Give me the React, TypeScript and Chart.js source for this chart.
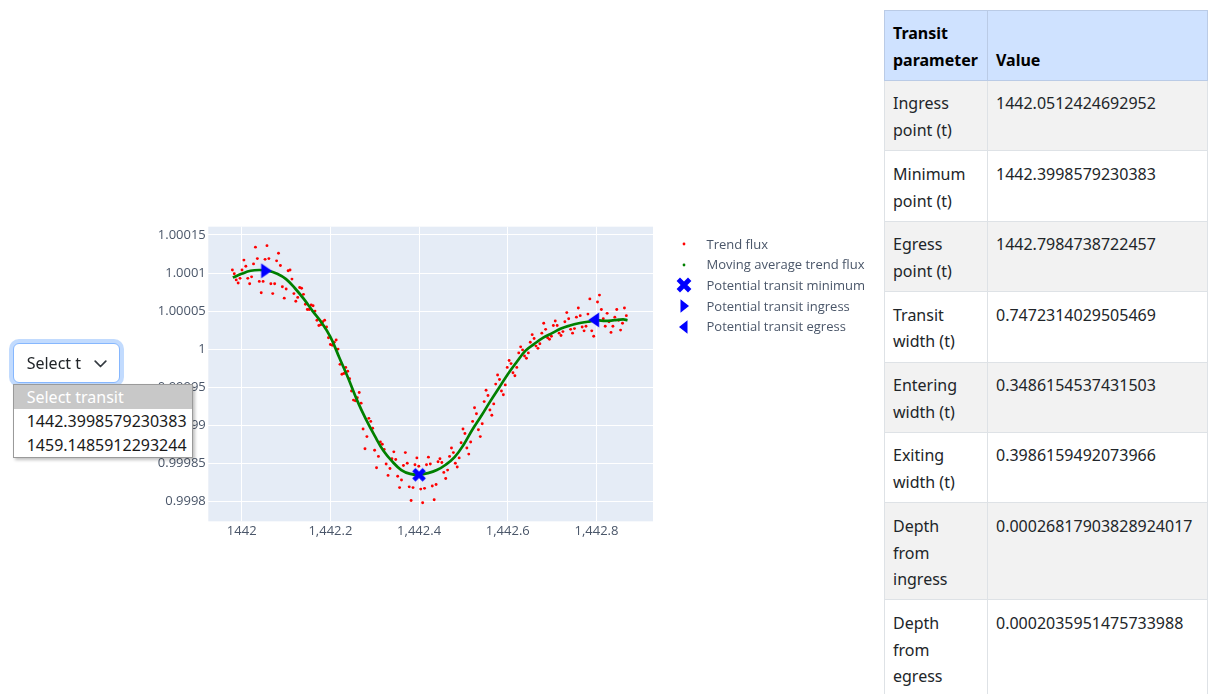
import React, { useEffect, useRef } from "react";
import { Chart, registerables } from "chart.js";

Chart.register(...registerables);

// Detrended light curve around the first transit candidate (time in days, flux offset in ppm from 1)
const trendTimes: number[] = [
  1441.979, 1441.9833, 1441.9877, 1441.992, 1441.9963, 1442.0007,
  1442.005, 1442.0093, 1442.0137, 1442.018, 1442.0223, 1442.0267,
  1442.031, 1442.0353, 1442.0397, 1442.044, 1442.0483, 1442.0527,
  1442.057, 1442.0613, 1442.0657, 1442.07, 1442.0743, 1442.0787,
  1442.083, 1442.0873, 1442.0917, 1442.096, 1442.1003, 1442.1047,
  1442.109, 1442.1133, 1442.1177, 1442.122, 1442.1263, 1442.1307,
  1442.135, 1442.1393, 1442.1437, 1442.148, 1442.1523, 1442.1567,
  1442.161, 1442.1653, 1442.1697, 1442.174, 1442.1783, 1442.1827,
  1442.187, 1442.1913, 1442.1957, 1442.2, 1442.2043, 1442.2087,
  1442.213, 1442.2173, 1442.2217, 1442.226, 1442.2303, 1442.2347,
  1442.239, 1442.2433, 1442.2477, 1442.252, 1442.2563, 1442.2607,
  1442.265, 1442.2693, 1442.2737, 1442.278, 1442.2823, 1442.2867,
  1442.291, 1442.2953, 1442.2997, 1442.304, 1442.3083, 1442.3127,
  1442.317, 1442.3213, 1442.3257, 1442.33, 1442.3343, 1442.3387,
  1442.343, 1442.3473, 1442.3517, 1442.356, 1442.3603, 1442.3647,
  1442.369, 1442.3733, 1442.3777, 1442.382, 1442.3863, 1442.3907,
  1442.395, 1442.3993, 1442.4037, 1442.408, 1442.4123, 1442.4167,
  1442.421, 1442.4253, 1442.4297, 1442.434, 1442.4383, 1442.4427,
  1442.447, 1442.4513, 1442.4557, 1442.46, 1442.4643, 1442.4687,
  1442.473, 1442.4773, 1442.4817, 1442.486, 1442.4903, 1442.4947,
  1442.499, 1442.5033, 1442.5077, 1442.512, 1442.5163, 1442.5207,
  1442.525, 1442.5293, 1442.5337, 1442.538, 1442.5423, 1442.5467,
  1442.551, 1442.5553, 1442.5597, 1442.564, 1442.5683, 1442.5727,
  1442.577, 1442.5813, 1442.5857, 1442.59, 1442.5943, 1442.5987,
  1442.603, 1442.6073, 1442.6117, 1442.616, 1442.6203, 1442.6247,
  1442.629, 1442.6333, 1442.6377, 1442.642, 1442.6463, 1442.6507,
  1442.655, 1442.6593, 1442.6637, 1442.668, 1442.6723, 1442.6767,
  1442.681, 1442.6853, 1442.6897, 1442.694, 1442.6983, 1442.7027,
  1442.707, 1442.7113, 1442.7157, 1442.72, 1442.7243, 1442.7287,
  1442.733, 1442.7373, 1442.7417, 1442.746, 1442.7503, 1442.7547,
  1442.759, 1442.7633, 1442.7677, 1442.772, 1442.7763, 1442.7807,
  1442.785, 1442.7893, 1442.7937, 1442.798, 1442.8023, 1442.8067,
  1442.811, 1442.8153, 1442.8197, 1442.824, 1442.8283, 1442.8327,
  1442.837, 1442.8413, 1442.8457, 1442.85, 1442.8543, 1442.8587,
  1442.863, 1442.8673,
];

const trendFluxPpm: number[] = [
  104, 99, 91, 87, 93, 104,
  117, 109, 93, 86, 95, 112,
  134, 119, 89, 74, 89, 118,
  136, 119, 86, 73, 86, 116,
  126, 110, 82, 67, 79, 103,
  104, 92, 73, 63, 68, 81,
  80, 72, 59, 52, 52, 58,
  57, 50, 38, 31, 32, 36,
  38, 29, 15, 6, 5, 9,
  12, 0, -20, -33, -32, -24,
  -29, -39, -55, -67, -68, -64,
  -57, -71, -105, -131, -115, -91,
  -95, -104, -133, -156, -141, -122,
  -125, -132, -151, -166, -157, -144,
  -135, -145, -167, -182, -172, -153,
  -136, -150, -181, -199, -182, -152,
  -143, -154, -184, -202, -183, -152,
  -142, -151, -180, -198, -178, -148,
  -144, -149, -162, -170, -159, -141,
  -130, -136, -150, -155, -143, -123,
  -105, -111, -130, -138, -122, -95,
  -77, -85, -106, -115, -98, -69,
  -54, -61, -80, -87, -72, -46,
  -34, -40, -55, -60, -47, -24,
  -15, -19, -31, -35, -24, -5,
  3, -1, -9, -12, -5, 9,
  19, 14, 4, 1, 7, 21,
  34, 26, 15, 13, 17, 31,
  37, 31, 21, 18, 23, 36,
  48, 40, 26, 21, 27, 42,
  54, 44, 29, 24, 30, 46,
  66, 24, 17, 35, 62, 71,
  52, 40, 30, 47, 36, 22,
  30, 42, 52, 38, 25, 34,
  54, 44,
];

// Moving average of the trend flux
const averageTimes: number[] = [
  1441.98, 1442.0, 1442.02, 1442.04, 1442.06, 1442.08, 1442.1, 1442.12, 1442.14, 1442.16,
  1442.18, 1442.2, 1442.22, 1442.24, 1442.26, 1442.28, 1442.3, 1442.32, 1442.34, 1442.36,
  1442.38, 1442.4, 1442.42, 1442.44, 1442.46, 1442.48, 1442.5, 1442.52, 1442.54, 1442.56,
  1442.58, 1442.6, 1442.62, 1442.64, 1442.66, 1442.68, 1442.7, 1442.72, 1442.74, 1442.76,
  1442.78, 1442.8, 1442.82, 1442.84, 1442.86, 1442.87,
];
const averageFluxPpm: number[] = [
  94, 99, 103, 104, 103, 99, 92, 80, 66, 50,
  35, 16, -11, -38, -67, -92, -114, -134, -148, -159,
  -164, -165, -163, -159, -152, -142, -126, -106, -88, -69,
  -51, -33, -17, -2, 7, 15, 21, 27, 31, 34,
  36, 38, 37, 38, 39, 38,
];

// Transit parameters
const ingressTime = 1442.0512424692952;
const minimumTime = 1442.3998579230383;
const egressTime = 1442.7984738722457;
const minimumFlux = 0.9998348;
const depthFromIngress = 0.00026817903828924017;
const depthFromEgress = 0.0002035951475733988;

const xTickValues = [1442, 1442.2, 1442.4, 1442.6, 1442.8];
const xTickLabels = ["1442", "1,442.2", "1,442.4", "1,442.6", "1,442.8"];
const yTickValues = [0.9998, 0.99985, 0.9999, 0.99995, 1, 1.00005, 1.0001, 1.00015];
const yTickLabels = ["0.9998", "0.99985", "0.9999", "0.99995", "1", "1.00005", "1.0001", "1.00015"];
const xRange = [1441.9247, 1442.9274];
const yRange = [0.9997737, 1.0001609];

const legendLabels = [
  "Trend flux",
  "Moving average trend flux",
  "Potential transit minimum",
  "Potential transit ingress",
  "Potential transit egress",
];

const transitOptions = ["Select transit", "1442.3998579230383", "1459.1485912293244"];

const tableHeaders = ["Transit\nparameter", "Value"];
const parameterNames = [
  "Ingress\npoint (t)",
  "Minimum\npoint (t)",
  "Egress\npoint (t)",
  "Transit\nwidth (t)",
  "Entering\nwidth (t)",
  "Exiting\nwidth (t)",
  "Depth\nfrom\ningress",
  "Depth\nfrom\negress",
];
const parameterValues = [
  "1442.0512424692952",
  "1442.3998579230383",
  "1442.7984738722457",
  "0.7472314029505469",
  "0.3486154537431503",
  "0.3986159492073966",
  "0.00026817903828924017",
  "0.0002035951475733988",
];

const PLOT_FONT = "'Open Sans', verdana, arial, sans-serif";
const UI_FONT = "'Noto Sans', 'Segoe UI', sans-serif";
const AXIS_TEXT = "#4a5669";
const MARKER_BLUE = "#0000ff";

const ppmToFlux = (ppm: number) => 1 + ppm * 1e-6;

function markerCanvas(draw: (ctx: CanvasRenderingContext2D) => void): HTMLCanvasElement {
  const c = document.createElement("canvas");
  c.width = 24;
  c.height = 24;
  const ctx = c.getContext("2d")!;
  ctx.translate(12, 12);
  ctx.fillStyle = MARKER_BLUE;
  ctx.strokeStyle = MARKER_BLUE;
  draw(ctx);
  return c;
}

const plotBackground = {
  id: "plotBackground",
  beforeDraw(chart: any) {
    const { ctx, chartArea } = chart;
    ctx.save();
    ctx.fillStyle = "#E5ECF6";
    ctx.fillRect(chartArea.left, chartArea.top, chartArea.right - chartArea.left, chartArea.bottom - chartArea.top);
    ctx.restore();
  },
};

function TransitChart() {
  const canvasRef = useRef<HTMLCanvasElement | null>(null);

  useEffect(() => {
    const canvas = canvasRef.current;
    if (!canvas) return;

    const cross = markerCanvas((ctx) => {
      ctx.lineWidth = 4.6;
      ctx.beginPath();
      ctx.moveTo(-5.2, -5.2);
      ctx.lineTo(5.2, 5.2);
      ctx.moveTo(5.2, -5.2);
      ctx.lineTo(-5.2, 5.2);
      ctx.stroke();
    });
    const triangleRight = markerCanvas((ctx) => {
      ctx.beginPath();
      ctx.moveTo(-3.25, -7.5);
      ctx.lineTo(7.5, 0);
      ctx.lineTo(-3.25, 7.5);
      ctx.closePath();
      ctx.fill();
    });
    const triangleLeft = markerCanvas((ctx) => {
      ctx.beginPath();
      ctx.moveTo(3.25, -7.5);
      ctx.lineTo(-7.5, 0);
      ctx.lineTo(3.25, 7.5);
      ctx.closePath();
      ctx.fill();
    });

    const tickFont = { family: PLOT_FONT, size: 13 };

    const chart = new Chart(canvas, {
      type: "scatter",
      data: {
        datasets: [
          {
            label: legendLabels[0],
            data: trendTimes.map((t, i) => ({ x: t, y: ppmToFlux(trendFluxPpm[i]) })),
            pointRadius: 1.45,
            pointBackgroundColor: "#ff0000",
            pointBorderWidth: 0,
            order: 5,
          },
          {
            label: legendLabels[1],
            data: averageTimes.map((t, i) => ({ x: t, y: ppmToFlux(averageFluxPpm[i]) })),
            showLine: true,
            borderColor: "#008000",
            borderWidth: 2.7,
            tension: 0.4,
            pointRadius: 0,
            order: 4,
          },
          {
            label: legendLabels[2],
            data: [{ x: minimumTime, y: minimumFlux }],
            pointStyle: cross,
            pointRadius: 8,
            order: 3,
          },
          {
            label: legendLabels[3],
            data: [{ x: ingressTime, y: minimumFlux + depthFromIngress }],
            pointStyle: triangleRight,
            pointRadius: 8,
            order: 2,
          },
          {
            label: legendLabels[4],
            data: [{ x: egressTime, y: minimumFlux + depthFromEgress }],
            pointStyle: triangleLeft,
            pointRadius: 8,
            order: 1,
          },
        ],
      },
      options: {
        animation: false,
        responsive: false,
        events: [],
        layout: { padding: { left: 0, right: 27, top: 226.7, bottom: 0 } },
        plugins: { legend: { display: false }, tooltip: { enabled: false } },
        scales: {
          x: {
            type: "linear",
            min: xRange[0],
            max: xRange[1],
            afterBuildTicks: (axis: any) => {
              axis.ticks = xTickValues.map((value) => ({ value }));
            },
            afterFit: (axis: any) => {
              axis.height = 38.7;
            },
            grid: { color: "#ffffff", lineWidth: 1, drawTicks: false },
            border: { display: false },
            ticks: {
              padding: 2,
              color: AXIS_TEXT,
              font: tickFont,
              maxRotation: 0,
              autoSkip: false,
              callback: (_v: any, i: number) => xTickLabels[i],
            },
          },
          y: {
            type: "linear",
            min: yRange[0],
            max: yRange[1],
            afterBuildTicks: (axis: any) => {
              axis.ticks = yTickValues.map((value) => ({ value }));
            },
            afterFit: (axis: any) => {
              axis.width = 208.3;
            },
            grid: { color: "#ffffff", lineWidth: 1, drawTicks: false },
            border: { display: false },
            ticks: {
              padding: 2.5,
              color: AXIS_TEXT,
              font: tickFont,
              autoSkip: false,
              callback: (_v: any, i: number) => yTickLabels[i],
            },
          },
        },
      },
      plugins: [plotBackground],
    } as any);

    return () => chart.destroy();
  }, []);

  return (
    <canvas
      ref={canvasRef}
      width={680}
      height={560}
      style={{ position: "absolute", left: 0, top: 0, width: 680, height: 560 }}
    />
  );
}

function LegendSymbol({ index }: { index: number }) {
  if (index === 0 || index === 1) {
    return (
      <svg width="16" height="16">
        <circle cx="8" cy="8" r="1.4" fill={index === 0 ? "#ff0000" : "#008000"} />
      </svg>
    );
  }
  if (index === 2) {
    return (
      <svg width="16" height="16">
        <path d="M2.3 2.3L13.7 13.7M13.7 2.3L2.3 13.7" stroke={MARKER_BLUE} strokeWidth="4.8" />
      </svg>
    );
  }
  const pts = index === 3 ? "4.5,1.3 13,8 4.5,14.7" : "11.5,1.3 3,8 11.5,14.7";
  return (
    <svg width="16" height="16">
      <polygon points={pts} fill={MARKER_BLUE} />
    </svg>
  );
}

function Legend() {
  return (
    <div style={{ position: "absolute", left: 675, top: 233.5, fontFamily: PLOT_FONT, fontSize: 13, color: AXIS_TEXT }}>
      {legendLabels.map((label, i) => (
        <div key={label} style={{ position: "absolute", left: 0, top: i * 20.7, height: 21, width: 200, whiteSpace: "nowrap" }}>
          <div style={{ position: "absolute", left: 0.5, top: 2.5 }}>
            <LegendSymbol index={i} />
          </div>
          <div style={{ position: "absolute", left: 31.5, top: 0, lineHeight: "21px" }}>{label}</div>
        </div>
      ))}
    </div>
  );
}

function TransitSelect() {
  return (
    <>
      <div
        style={{
          position: "absolute",
          left: 12.7,
          top: 342.7,
          width: 107.3,
          height: 40,
          boxSizing: "border-box",
          border: "1px solid #86b7fe",
          borderRadius: 6,
          boxShadow: "0 0 0 4px rgba(13,110,253,0.25)",
          background: "#ffffff",
          fontFamily: UI_FONT,
          fontSize: 16,
          color: "#212529",
        }}
      >
        <div style={{ position: "absolute", left: 13, top: 0, lineHeight: "39px", width: 54, overflow: "hidden", whiteSpace: "nowrap" }}>
          {transitOptions[0]}
        </div>
        <svg width="13" height="8" style={{ position: "absolute", left: 80, top: 16.5 }}>
          <path d="M1.2 1.2L6.5 6.5L11.8 1.2" fill="none" stroke="#343a40" strokeWidth="1.7" strokeLinecap="round" strokeLinejoin="round" />
        </svg>
      </div>
      <div
        style={{
          position: "absolute",
          left: 12.7,
          top: 384.3,
          width: 180,
          boxSizing: "border-box",
          border: "1px solid #9a9a9a",
          boxShadow: "2px 2px 3px rgba(0,0,0,0.25)",
          background: "#ffffff",
          fontFamily: UI_FONT,
          fontSize: 16,
          color: "#000000",
        }}
      >
        {transitOptions.map((opt, i) => (
          <div
            key={opt}
            style={{
              height: 24,
              lineHeight: "24px",
              paddingLeft: 13,
              whiteSpace: "nowrap",
              background: i === 0 ? "#c8c8c8" : "#ffffff",
              color: i === 0 ? "#ffffff" : "#1a1a1a",
            }}
          >
            {opt}
          </div>
        ))}
      </div>
    </>
  );
}

function ParameterTable() {
  const cell = (extra: React.CSSProperties): React.CSSProperties => ({
    padding: "9.5px 8px 6.5px 8px",
    border: "1px solid #dee2e6",
    textAlign: "left",
    verticalAlign: "top",
    whiteSpace: "pre-line",
    ...extra,
  });
  return (
    <table
      style={{
        position: "absolute",
        left: 884,
        top: 9.5,
        width: 323,
        borderCollapse: "collapse",
        tableLayout: "fixed",
        fontFamily: UI_FONT,
        fontSize: 16,
        lineHeight: "26.7px",
        color: "#212529",
      }}
    >
      <colgroup>
        <col style={{ width: 103 }} />
        <col style={{ width: 220 }} />
      </colgroup>
      <thead>
        <tr style={{ background: "#cfe2ff" }}>
          {tableHeaders.map((h) => (
            <th key={h} style={cell({ fontWeight: 700, verticalAlign: "bottom", borderColor: "#bacbe6", color: "#000000" })}>
              {h}
            </th>
          ))}
        </tr>
      </thead>
      <tbody>
        {parameterNames.map((name, i) => (
          <tr key={name} style={{ background: i % 2 === 0 ? "#f2f2f2" : "#ffffff" }}>
            <td style={cell({})}>{name}</td>
            <td style={cell({})}>{parameterValues[i]}</td>
          </tr>
        ))}
      </tbody>
    </table>
  );
}

export default function App() {
  return (
    <div style={{ position: "fixed", left: 0, top: 0, width: 1209, height: 694, overflow: "hidden", background: "#ffffff" }}>
      <TransitChart />
      <Legend />
      <TransitSelect />
      <ParameterTable />
    </div>
  );
}
